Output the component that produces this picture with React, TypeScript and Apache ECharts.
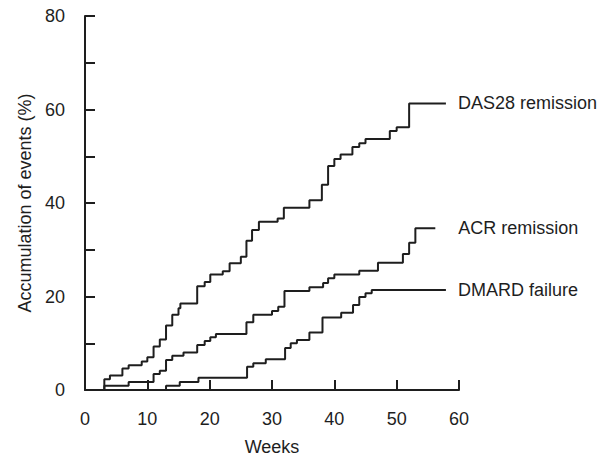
import React, { useEffect, useRef } from "react";
import * as echarts from "echarts";

const xTicks = [0, 10, 20, 30, 40, 50, 60];
const yTicks = [0, 20, 40, 60, 80];

const das28Weeks = [0, 3.1, 4.0, 6.0, 7.0, 9.1, 10.0, 11.0, 12.0, 13.0, 14.0, 15.0, 15.3, 18.0, 19.2, 20.1, 22.1, 23.2, 25.0, 25.9, 26.8, 27.9, 30.9, 31.9, 36.0, 38.0, 39.0, 40.0, 41.0, 42.9, 44.0, 45.0, 48.9, 50.0, 52.0, 57.9];
const das28Values = [0, 2.3, 3.1, 4.6, 5.3, 6.1, 7.0, 9.3, 10.8, 13.8, 16.1, 17.5, 18.5, 22.2, 23.1, 24.7, 25.4, 27.1, 28.5, 31.9, 34.2, 36.0, 36.7, 39.0, 40.6, 43.9, 47.9, 49.4, 50.4, 52.0, 52.8, 53.7, 55.4, 56.2, 61.3, 61.3];

const acrWeeks = [0, 3.1, 7.0, 11.0, 12.0, 13.0, 14.0, 15.8, 18.0, 19.2, 20.1, 21.0, 25.9, 27.0, 30.0, 31.0, 32.0, 36.0, 38.2, 39.0, 40.0, 44.0, 47.0, 51.0, 52.0, 53.0, 56.2];
const acrValues = [0, 0.9, 1.7, 3.4, 4.1, 6.4, 7.3, 8.0, 9.6, 10.5, 11.3, 12.0, 14.5, 16.1, 16.9, 17.8, 21.2, 22.0, 22.9, 23.9, 24.7, 25.5, 27.2, 29.1, 31.5, 34.6, 34.6];

const dmardWeeks = [0, 13.0, 15.2, 18.2, 26.0, 27.0, 29.0, 32.1, 33.0, 34.0, 36.0, 38.1, 41.1, 43.0, 44.0, 45.0, 46.0, 57.9];
const dmardValues = [0, 0.9, 1.7, 2.6, 5.0, 5.7, 6.6, 9.0, 10.0, 10.7, 12.3, 15.5, 16.5, 18.2, 19.9, 20.7, 21.4, 21.4];

const seriesNames = ["DAS28 remission", "ACR remission", "DMARD failure"];

const FONT = "'Liberation Sans', Arial, Helvetica, sans-serif";
const INK = "#1e1e1e";

function zip(xs: number[], ys: number[]) {
  return xs.map((x, i) => [x, ys[i]]);
}

export default function App() {
  const ref = useRef<HTMLDivElement>(null);
  useEffect(() => {
    if (!ref.current) return;
    const chart = echarts.init(ref.current, null, { renderer: "svg" });
    const mk = (name: string, data: number[][], dist: number) => ({
      name,
      type: "line",
      step: "end",
      data,
      symbol: "none",
      lineStyle: { color: INK, width: 2 },
      endLabel: {
        show: true,
        formatter: name,
        distance: dist,
        color: INK,
        fontSize: 18,
        fontFamily: FONT,
      },
      silent: true,
    });
    chart.setOption({
      animation: false,
      grid: {
        left: 85,
        right: 154,
        top: 16,
        bottom: 66,
        containLabel: false,
        outerBoundsMode: "none",
      },
      xAxis: {
        type: "value",
        min: xTicks[0],
        max: xTicks[xTicks.length - 1],
        interval: 10,
        name: "Weeks",
        nameLocation: "middle",
        nameGap: 48,
        nameTextStyle: { color: INK, fontSize: 18, fontFamily: FONT, lineHeight: 18 },
        axisLine: { lineStyle: { color: INK, width: 2 } },
        axisTick: { inside: true, length: 10, lineStyle: { color: INK, width: 2 } },
        axisLabel: { color: INK, fontSize: 18, fontFamily: FONT, margin: 20 },
        splitLine: { show: false },
      },
      yAxis: {
        type: "value",
        min: yTicks[0],
        max: yTicks[yTicks.length - 1],
        interval: 10,
        name: "Accumulation of events (%)",
        nameLocation: "middle",
        nameGap: 51,
        nameTextStyle: { color: INK, fontSize: 18, fontFamily: FONT },
        axisLine: { lineStyle: { color: INK, width: 2 } },
        axisTick: { inside: true, length: 10, lineStyle: { color: INK, width: 2 } },
        axisLabel: {
          color: INK,
          fontSize: 18,
          fontFamily: FONT,
          margin: 20,
          formatter: (v: number) => (yTicks.includes(v) ? String(v) : ""),
        },
        splitLine: { show: false },
      },
      series: [
        mk(seriesNames[0], zip(das28Weeks, das28Values), 12),
        mk(seriesNames[1], zip(acrWeeks, acrValues), 23),
        mk(seriesNames[2], zip(dmardWeeks, dmardValues), 12),
      ],
    });
    return () => chart.dispose();
  }, []);
  return (
    <div
      ref={ref}
      style={{ position: "absolute", left: 0, top: 0, width: 613, height: 456 }}
    />
  );
}
